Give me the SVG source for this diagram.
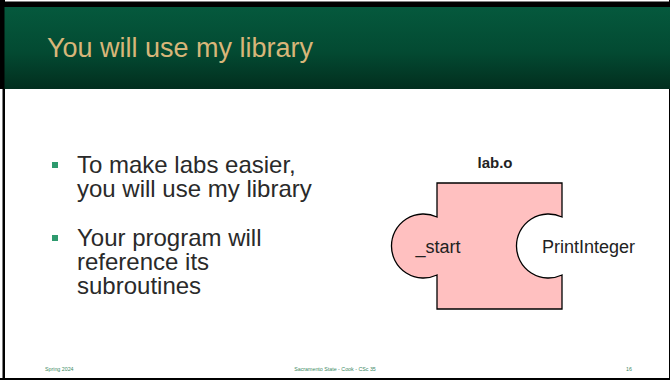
<svg xmlns="http://www.w3.org/2000/svg" width="670" height="380" viewBox="0 0 670 380">
  <defs>
    <linearGradient id="titleFill" x1="0" y1="0" x2="0" y2="1">
      <stop offset="0" stop-color="#05593d"/>
      <stop offset="0.55" stop-color="#034a32"/>
      <stop offset="1" stop-color="#022e1e"/>
    </linearGradient>
  </defs>
  <style>
    .title { font-family: "Liberation Sans", Arial, sans-serif; font-size: 27px; fill: #d8b679; }
    .body { font-family: "Liberation Sans", Arial, sans-serif; font-size: 24px; fill: #2a2a2a; }
    .bullet { fill: #2e9a6e; }
    .foot { font-family: "Liberation Sans", Arial, sans-serif; font-size: 5.3px; fill: #3c8a64; }
    .piece { fill: #ffc0c0; stroke: #000000; stroke-width: 1.3; }
    .label { font-family: "Liberation Sans", Arial, sans-serif; font-size: 18px; fill: #222222; }
    .caption { font-family: "Liberation Sans", Arial, sans-serif; font-size: 15px; font-weight: bold; fill: #222222; }
  </style>

  <!-- slide background and frame -->
  <rect x="0" y="0" width="670" height="380" fill="#ffffff"/>
  <rect x="0" y="1.5" width="670" height="5.5" fill="#000000"/>
  <rect x="0" y="0" width="4.5" height="89" fill="#000000"/>
  <rect x="2.5" y="0" width="2.5" height="380" fill="#000000"/>
  <rect x="0" y="378" width="670" height="2" fill="#000000"/>
  <rect x="669" y="0" width="1" height="380" fill="#000000"/>

  <!-- title bar -->
  <rect x="4.5" y="7" width="665.5" height="82" fill="url(#titleFill)"/>
  <text class="title" x="47" y="57">You will use my library</text>

  <!-- bullet list -->
  <g id="bullets">
    <rect class="bullet" x="52" y="162" width="6" height="6"/>
    <text class="body" x="77" y="173">To make labs easier,<tspan x="77" dy="24">you will use my library</tspan></text>
    <rect class="bullet" x="52" y="235" width="6" height="6"/>
    <text class="body" x="77" y="246">Your program will<tspan x="77" dy="24">reference its</tspan><tspan x="77" dy="24">subroutines</tspan></text>
  </g>

  <!-- library puzzle piece: tab on the left, socket on the right -->
  <g id="lab_o">
    <text class="caption" x="495" y="168" text-anchor="middle">lab.o</text>
    <path class="piece" d="M437,183 H562 V217 A32,32 0 1 0 562,275 V309 H437 V275 A32,32 0 1 1 437,217 Z"/>
  </g>
  <g id="start">
    <text class="label" x="438" y="253" text-anchor="middle">_start</text>
  </g>
  <g id="print_integer">
    <text class="label" x="542" y="253">PrintInteger</text>
  </g>

  <!-- footer -->
  <text class="foot" x="45" y="371">Spring 2024</text>
  <text class="foot" x="335" y="371" text-anchor="middle">Sacramento State - Cook - CSc 35</text>
  <text class="foot" x="626" y="371">16</text>
</svg>
